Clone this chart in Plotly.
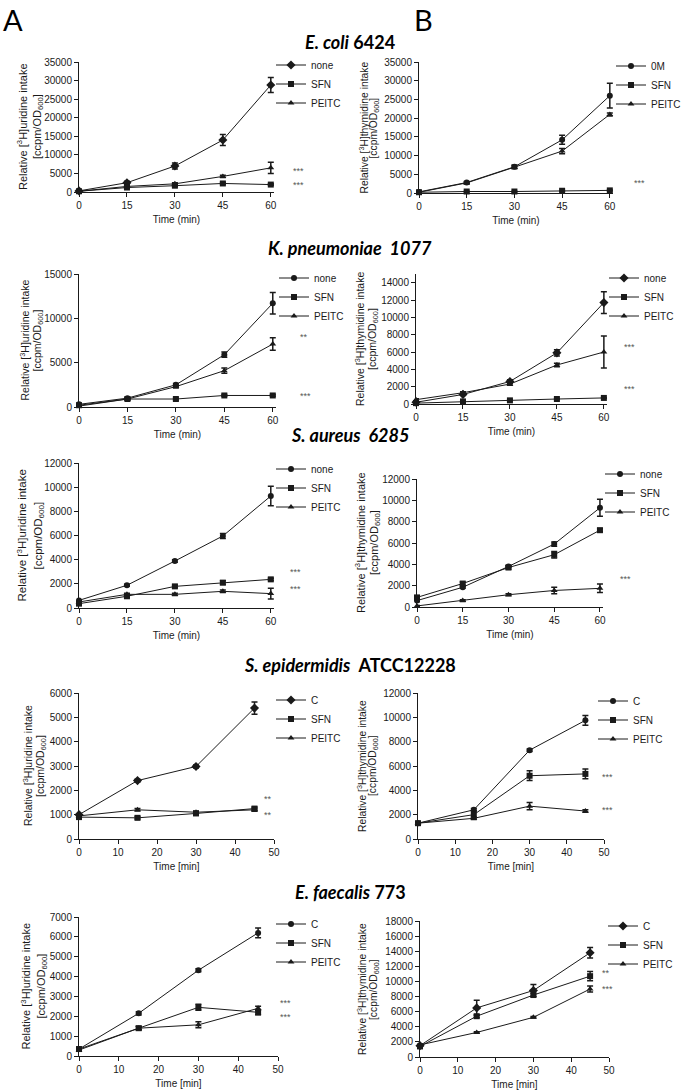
import plotly.graph_objects as go

W, H = 685, 1090

# ---------------- data ----------------
TIME_60 = [0, 15, 30, 45, 60]
TIME_45 = [0, 15, 30, 45]
TICKS_60 = [0, 15, 30, 45, 60]
TICKS_50 = [0, 10, 20, 30, 40, 50]

# E. coli 6424 - uridine
ECU_NONE = [300, 2500, 7000, 14000, 28800]
ECU_NONE_E = [100, 400, 800, 1500, 2000]
ECU_SFN = [200, 1200, 1700, 2300, 2000]
ECU_SFN_E = [100, 200, 200, 300, 200]
ECU_PEITC = [200, 1500, 2200, 4200, 6500]
ECU_PEITC_E = [100, 200, 300, 300, 1500]
ECU_STARS = [("***", 5650), ("***", 1900)]

# E. coli 6424 - thymidine
ECT_NONE = [300, 2800, 7000, 14200, 26000]
ECT_NONE_E = [100, 300, 500, 1200, 3300]
ECT_SFN = [200, 400, 400, 600, 700]
ECT_SFN_E = [100, 100, 100, 100, 100]
ECT_PEITC = [200, 2700, 6900, 11200, 21000]
ECT_PEITC_E = [100, 200, 300, 700, 400]
ECT_STARS = [("***", 2700)]

# K. pneumoniae 1077 - uridine
KPU_NONE = [300, 1000, 2500, 5900, 11700]
KPU_NONE_E = [100, 100, 150, 300, 1200]
KPU_SFN = [200, 900, 900, 1300, 1300]
KPU_SFN_E = [100, 100, 100, 100, 100]
KPU_PEITC = [100, 900, 2300, 4100, 7100]
KPU_PEITC_E = [100, 100, 150, 300, 700]
KPU_STARS = [("**", 7900), ("***", 1250)]

# K. pneumoniae 1077 - thymidine
KPT_NONE = [200, 1100, 2600, 5900, 11700]
KPT_NONE_E = [100, 100, 200, 350, 1250]
KPT_SFN = [100, 300, 420, 575, 700]
KPT_SFN_E = [50, 50, 50, 50, 50]
KPT_PEITC = [500, 1300, 2300, 4500, 6000]
KPT_PEITC_E = [100, 100, 150, 200, 1850]
KPT_STARS = [("***", 6600), ("***", 1740)]

# S. aureus 6285 - uridine
SAU_NONE = [630, 1880, 3890, 5960, 9270]
SAU_NONE_E = [50, 80, 100, 200, 800]
SAU_SFN = [360, 970, 1790, 2100, 2370]
SAU_SFN_E = [50, 100, 100, 150, 100]
SAU_PEITC = [500, 1130, 1130, 1380, 1190]
SAU_PEITC_E = [50, 100, 100, 100, 450]
SAU_STARS = [("***", 2980), ("***", 1570)]

# S. aureus 6285 - thymidine
SAT_NONE = [600, 1850, 3800, 5900, 9300]
SAT_NONE_E = [100, 100, 100, 200, 800]
SAT_SFN = [900, 2200, 3700, 4900, 7200]
SAT_SFN_E = [100, 150, 150, 300, 150]
SAT_PEITC = [100, 600, 1150, 1550, 1750]
SAT_PEITC_E = [50, 80, 100, 300, 400]
SAT_STARS = [("***", 2620)]

# S. epidermidis ATCC12228 - uridine
SEU_C = [1000, 2400, 2980, 5380]
SEU_C_E = [50, 60, 60, 250]
SEU_SFN = [900, 870, 1050, 1250]
SEU_SFN_E = [50, 50, 50, 60]
SEU_PEITC = [950, 1200, 1100, 1200]
SEU_PEITC_E = [50, 50, 50, 60]
SEU_STARS = [("**", 1640), ("**", 990)]

# S. epidermidis ATCC12228 - thymidine
SET_C = [1300, 2400, 7300, 9750]
SET_C_E = [100, 100, 100, 400]
SET_SFN = [1300, 2000, 5200, 5350]
SET_SFN_E = [100, 300, 400, 400]
SET_PEITC = [1300, 1700, 2700, 2300]
SET_PEITC_E = [100, 100, 300, 100]
SET_STARS = [("***", 5100), ("***", 2380)]

# E. faecalis 773 - uridine
EFU_C = [350, 2150, 4320, 6200]
EFU_C_E = [50, 80, 80, 250]
EFU_SFN = [350, 1400, 2450, 2200]
EFU_SFN_E = [50, 80, 150, 120]
EFU_PEITC = [300, 1400, 1570, 2400]
EFU_PEITC_E = [50, 80, 150, 100]
EFU_STARS = [("***", 2670), ("***", 1960)]

# E. faecalis 773 - thymidine
EFT_C = [1500, 6500, 8800, 13800]
EFT_C_E = [200, 1000, 800, 700]
EFT_SFN = [1400, 5400, 8200, 10700]
EFT_SFN_E = [200, 200, 200, 600]
EFT_PEITC = [1600, 3250, 5250, 9000]
EFT_PEITC_E = [100, 100, 100, 400]
EFT_STARS = [("**", 11100), ("***", 9000)]

ROW_TITLES = [
    "<i>E. coli</i> 6424",
    "<i>K. pneumoniae  1077</i>",
    "<i>S. aureus  6285</i>",
    "<i>S. epidermidis</i>  ATCC12228",
    "<i>E. faecalis</i> 773",
]

URI_TITLE = ("Relative [<sup>3</sup>H]uridine intake", "[ccpm/OD<sub>600</sub>]")
THY_TITLE = ("Relative [<sup>3</sup>H]thymidine intake", "[ccpm/OD<sub>600</sub>]")

# ---------------- layout helpers ----------------
FONT = "Liberation Sans, Arial, sans-serif"
INK = "#1a1a1a"


def fx(px):
    return px / W


def fy(px):
    return 1 - px / H


panels = [
    dict(box=(79, 274, 62, 192), t=TIME_60, xt=TICKS_60, xr=60, yr=35000, dt=5000, yt=URI_TITLE, yl=(22, 38), yf=11, xtt="Time (min)",
         s=[("none", ECU_NONE, ECU_NONE_E, "diamond"), ("SFN", ECU_SFN, ECU_SFN_E, "square"), ("PEITC", ECU_PEITC, ECU_PEITC_E, "triangle-up")],
         st=ECU_STARS, sx=1.085, lg=(313, 84)),
    dict(box=(419, 613, 62, 193), t=TIME_60, xt=TICKS_60, xr=60, yr=35000, dt=5000, yt=THY_TITLE, yl=(363, 374), yf=10.3, xtt="Time (min)",
         s=[("0M", ECT_NONE, ECT_NONE_E, "circle"), ("SFN", ECT_SFN, ECT_SFN_E, "square"), ("PEITC", ECT_PEITC, ECT_PEITC_E, "triangle-up")],
         st=ECT_STARS, sx=1.10, lg=(653, 85)),
    dict(box=(79, 276, 274, 407), t=TIME_60, xt=TICKS_60, xr=60, yr=15000, dt=5000, yt=URI_TITLE, yl=(24, 37), yf=10.5, xtt="Time (min)",
         s=[("none", KPU_NONE, KPU_NONE_E, "circle"), ("SFN", KPU_SFN, KPU_SFN_E, "square"), ("PEITC", KPU_PEITC, KPU_PEITC_E, "triangle-up")],
         st=KPU_STARS, sx=1.11, lg=(316, 297)),
    dict(box=(416, 607, 274, 404), t=TIME_60, xt=TICKS_60, xr=60, yr=15000, dt=2000, ytmax=14000, yt=THY_TITLE, yl=(360, 373), yf=10.5, xtt="Time (min)",
         s=[("none", KPT_NONE, KPT_NONE_E, "diamond"), ("SFN", KPT_SFN, KPT_SFN_E, "square"), ("PEITC", KPT_PEITC, KPT_PEITC_E, "triangle-up")],
         st=KPT_STARS, sx=1.08, lg=(646, 297)),
    dict(box=(79, 274, 463, 608), t=TIME_60, xt=TICKS_60, xr=60, yr=12000, dt=2000, yt=URI_TITLE, yl=(21, 38), yf=11.5, xtt="Time (min)",
         s=[("none", SAU_NONE, SAU_NONE_E, "circle"), ("SFN", SAU_SFN, SAU_SFN_E, "square"), ("PEITC", SAU_PEITC, SAU_PEITC_E, "triangle-up")],
         st=SAU_STARS, sx=1.07, lg=(313, 488)),
    dict(box=(417, 603, 479, 607), t=TIME_60, xt=TICKS_60, xr=60, yr=12000, dt=2000, yt=THY_TITLE, yl=(360, 375), yf=11, xtt="Time (min)",
         s=[("none", SAT_NONE, SAT_NONE_E, "circle"), ("SFN", SAT_SFN, SAT_SFN_E, "square"), ("PEITC", SAT_PEITC, SAT_PEITC_E, "triangle-up")],
         st=SAT_STARS, sx=1.08, lg=(642, 493)),
    dict(box=(79, 274, 693, 839), t=TIME_45, xt=TICKS_50, xr=50, yr=6000, dt=1000, yt=URI_TITLE, yl=(27, 41), yf=10.5, xtt="Time [min]",
         s=[("C", SEU_C, SEU_C_E, "diamond"), ("SFN", SEU_SFN, SEU_SFN_E, "square"), ("PEITC", SEU_PEITC, SEU_PEITC_E, "triangle-up")],
         st=SEU_STARS, sx=0.94, lg=(313, 719)),
    dict(box=(418, 604, 693, 839), t=TIME_45, xt=TICKS_50, xr=50, yr=12000, dt=2000, yt=THY_TITLE, yl=(361, 373), yf=10.3, xtt="Time [min]",
         s=[("C", SET_C, SET_C_E, "circle"), ("SFN", SET_SFN, SET_SFN_E, "square"), ("PEITC", SET_PEITC, SET_PEITC_E, "triangle-up")],
         st=SET_STARS, sx=0.98, lg=(635, 720)),
    dict(box=(79, 278, 917, 1056), t=TIME_45, xt=TICKS_50, xr=50, yr=7000, dt=1000, yt=URI_TITLE, yl=(25, 41), yf=11, xtt="Time [min]",
         s=[("C", EFU_C, EFU_C_E, "circle"), ("SFN", EFU_SFN, EFU_SFN_E, "square"), ("PEITC", EFU_PEITC, EFU_PEITC_E, "triangle-up")],
         st=EFU_STARS, sx=1.0, lg=(313, 943)),
    dict(box=(420, 609, 921, 1057), t=TIME_45, xt=TICKS_50, xr=50, yr=18000, dt=2000, yt=THY_TITLE, yl=(361, 374), yf=10.3, xtt="Time [min]",
         s=[("C", EFT_C, EFT_C_E, "diamond"), ("SFN", EFT_SFN, EFT_SFN_E, "square"), ("PEITC", EFT_PEITC, EFT_PEITC_E, "triangle-up")],
         st=EFT_STARS, sx=0.95, lg=(645, 945)),
]

fig = go.Figure()
layout = dict(
    width=W, height=H, margin=dict(l=0, r=0, t=0, b=0, autoexpand=False),
    paper_bgcolor="white", plot_bgcolor="white",
    font=dict(family=FONT, size=10, color=INK),
    showlegend=True,
)
annotations = []

for i, p in enumerate(panels):
    n = i + 1
    sfx = "" if n == 1 else str(n)
    xa, ya = "x" + sfx, "y" + sfx
    lgname = "legend" + sfx
    x0, x1, yt_, yb = p["box"]
    ytmax = p.get("ytmax", p["yr"])
    common = dict(showline=True, linecolor=INK, linewidth=1, ticks="outside", ticklen=4, tickwidth=1,
                  tickcolor=INK, showgrid=False, zeroline=False, tickformat="d", automargin=False,
                  tickfont=dict(family=FONT, size=10, color=INK))
    xmax = p["xr"] + (1 if p["t"][-1] == p["xr"] else 0)
    layout["xaxis" + sfx] = dict(domain=[fx(x0), fx(x1)], anchor=ya, range=[0, xmax],
                                 tickvals=p["xt"], title=dict(text=p["xtt"], font=dict(size=10), standoff=5),
                                 **common)
    layout["yaxis" + sfx] = dict(domain=[fy(yb), fy(yt_)], anchor=xa, range=[0, p["yr"]],
                                 tickvals=list(range(0, ytmax + 1, p["dt"])),
                                 **common)
    for name, vals, errs, sym in p["s"]:
        fig.add_trace(go.Scatter(
            x=p["t"], y=vals, name=name, mode="lines+markers",
            xaxis=xa, yaxis=ya, legend=lgname, cliponaxis=False,
            line=dict(color=INK, width=1),
            marker=dict(symbol=sym, size=6 if sym != "diamond" else 7, color=INK),
            error_y=dict(type="data", array=errs, visible=True, color=INK, thickness=1.5, width=3),
        ))
    tx, ty = p["lg"]
    layout[lgname] = dict(x=fx(tx - 42), y=fy(ty), xanchor="left", yanchor="middle",
                          bgcolor="rgba(0,0,0,0)", font=dict(family=FONT, size=10, color=INK),
                          itemwidth=30, tracegroupgap=0)
    # y-axis title (two lines)
    for line_txt, lx in zip(p["yt"], p["yl"]):
        annotations.append(dict(text=line_txt, xref="paper", yref="paper", x=fx(lx), y=fy((yt_ + yb) / 2),
                                xanchor="center", yanchor="middle", textangle=-90, showarrow=False,
                                font=dict(family=FONT, size=p["yf"], color=INK)))
    for txt, yv in p["st"]:
        annotations.append(dict(text=txt, xref=xa + " domain", yref=ya, x=p["sx"], y=yv,
                                xanchor="left", yanchor="middle", showarrow=False,
                                font=dict(family=FONT, size=9, color="#555")))

row_title_y = [42, 248, 435, 665, 892]
for txt, yp in zip(ROW_TITLES, row_title_y):
    annotations.append(dict(text="<b>" + txt + "</b>", xref="paper", yref="paper", x=fx(350), y=fy(yp),
                            xanchor="center", yanchor="middle", showarrow=False,
                            font=dict(family="Lato, Open Sans, sans-serif", size=18, color="black")))

annotations.append(dict(text="A", xref="paper", yref="paper", x=fx(1), y=1, xanchor="left", yanchor="top",
                        showarrow=False, font=dict(family="Lato, sans-serif", size=29, color="black")))
annotations.append(dict(text="B", xref="paper", yref="paper", x=fx(412), y=1, xanchor="left", yanchor="top",
                        showarrow=False, font=dict(family="Lato, sans-serif", size=29, color="black")))

layout["annotations"] = annotations
fig.update_layout(**layout)
fig.write_html("out.html", config={"displayModeBar": False},
               post_script="document.body.style.margin='0px';document.body.style.overflow='hidden';")
